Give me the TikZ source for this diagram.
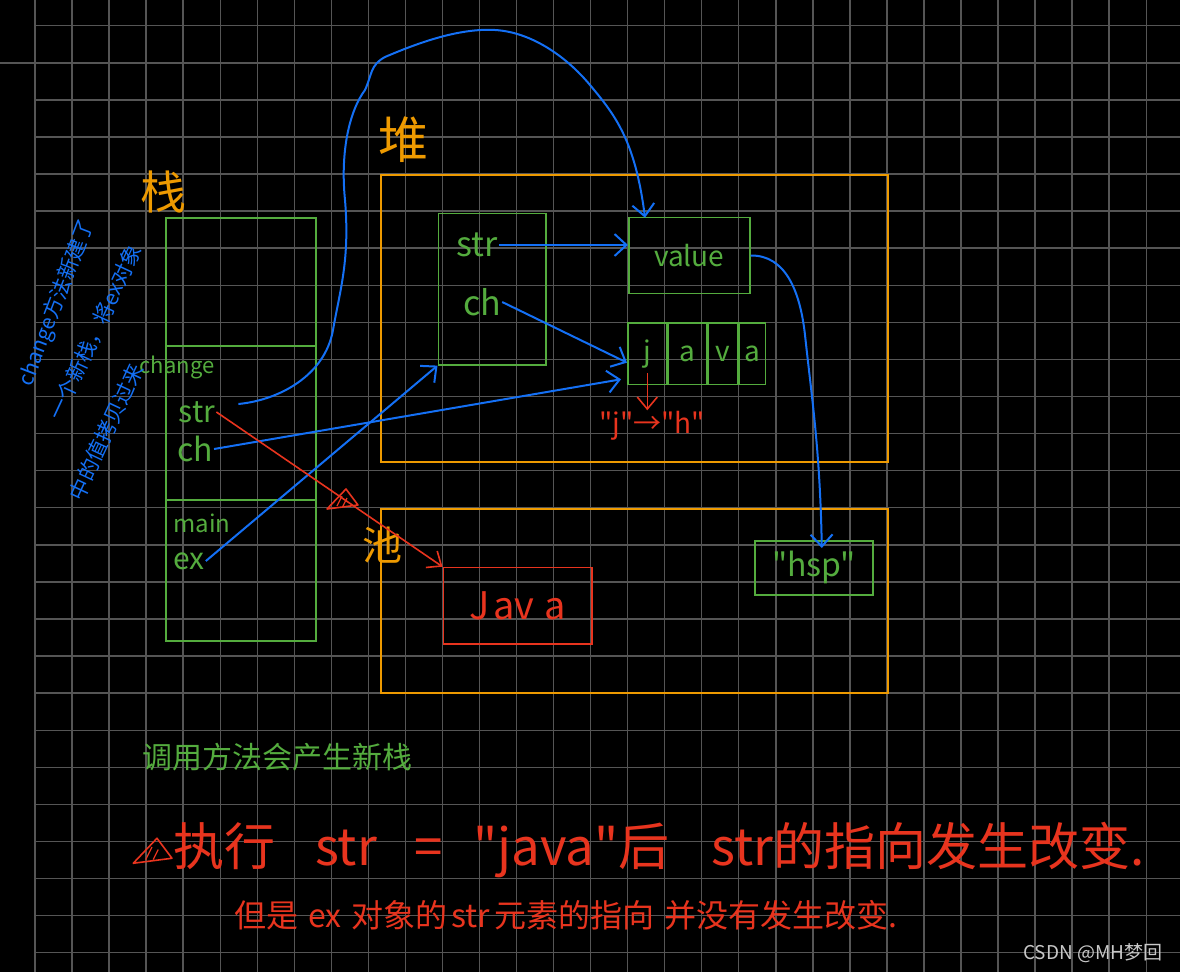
\documentclass[tikz,border=0pt]{standalone}
\usepackage{fontspec}
\newfontfamily\cjk{Noto Sans CJK SC}
\usepackage{tikz}
\usetikzlibrary{arrows.meta,calc}

\definecolor{gridgray}{RGB}{85,85,85}
\definecolor{hgreen}{RGB}{84,172,62}
\definecolor{horange}{RGB}{238,154,0}
\definecolor{hred}{RGB}{232,52,30}
\definecolor{hblue}{RGB}{20,112,245}
\definecolor{wmgray}{RGB}{200,200,200}

\newcommand{\setfs}[1]{\fontsize{#1}{#1}\selectfont}
% hatched warning triangle: #1 centre, #2 scale
\newcommand{\warnmark}[2]{%
  \begin{scope}[shift={#1}, scale=#2]
    \draw[hred, line width=1.6pt, line join=round] (-15,9) -- (4,-11) -- (16,5) -- cycle;
    \draw[hred, line width=1.2pt] (-5,6) .. controls (-3,1) .. (0,-4) (1,6) .. controls (3,2) .. (5,-2);
  \end{scope}}

\begin{document}
\begin{tikzpicture}[x=1pt, y=-1pt,
    gridline/.style={draw=gridgray, line width=1.4pt},
    framebox/.style={draw, line width=1.6pt, inner sep=0pt, anchor=north west},
    greenbox/.style={framebox, draw=hgreen},
    orangebox/.style={framebox, draw=horange},
    redbox/.style={framebox, draw=hred},
    cell/.style={greenbox, text=hgreen, font=\cjk\setfs{28}, minimum height=61.7},
    gtext/.style={text=hgreen, font=\cjk\setfs{#1}, inner sep=1pt},
    otext/.style={text=horange, font=\cjk\setfs{#1}, inner sep=1pt},
    rtext/.style={text=hred, font=\cjk\setfs{#1}, inner sep=1pt},
    btext/.style={text=hblue, font=\cjk\setfs{#1}, inner sep=0pt},
    bluearrow/.style={-{Straight Barb[length=12pt,width=22pt]}, hblue, line width=2pt},
    redarrow/.style={-{Straight Barb[length=12pt,width=20pt]}, hred, line width=1.6pt}
]
    % Background and grid
    \fill[black] (0,0) rectangle (1180,972);
    \useasboundingbox (0,0) rectangle (1180,972);
    \foreach \i in {0,...,30}
        \draw[gridline] (35+37.04*\i,0) -- (35+37.04*\i,972);
    \foreach \j in {0,...,25}
        \draw[gridline] (35,25.7+37.08*\j) -- (1180,25.7+37.08*\j);
    \draw[gridline, line width=2.4pt] (0,62.8) -- (1180,62.8);

    % Stack
    \node[greenbox, minimum width=150, minimum height=128] (topframe) at (165,217) {};
    \node[greenbox, minimum width=150, minimum height=154] (changeframe) at (165,345) {};
    \node[greenbox, minimum width=150, minimum height=141] (mainframe) at (165,499) {};
    \node[otext=46] (stacklabel) at (163,192) {栈};
    \node[gtext=22] (changelabel) at (177,367) {change};
    \node[gtext=30] (cstr) at (197,412) {str};
    \node[gtext=32] (cch) at (195,449) {ch};
    \node[gtext=24] (mainlabel) at (202,523) {main};
    \node[gtext=30] (cex) at (189,561) {ex};

    % Heap
    \node[orangebox, minimum width=507, minimum height=287] (heap) at (380,174) {};
    \node[otext=50] (heaplabel) at (403,140) {堆};
    \node[greenbox, minimum width=107.5, minimum height=151.3] (obj) at (437.5,212.7) {};
    \node[gtext=34] (ostr) at (477,245) {str};
    \node[gtext=34] (och) at (482,302) {ch};
    \node[greenbox, minimum width=121, minimum height=76, text=hgreen, font=\cjk\setfs{28}] (valuebox) at (628,216.7) {value};
    \node[cell, minimum width=39] (cellj) at (627,322) {j};
    \node[cell, minimum width=38] (cella) at (cellj.north east) {a};
    \node[cell, minimum width=30] (cellv) at (cella.north east) {v};
    \node[cell, minimum width=26] (cellb) at (cellv.north east) {a};
    \node[rtext=28] (jh) at (652,426) {"j"→"h"};

    % String pool
    \node[orangebox, minimum width=507, minimum height=184] (pool) at (380,508) {};
    \node[otext=40] (poollabel) at (382,545) {池};
    \node[redbox, minimum width=148.5, minimum height=76.3, text=hred, font=\cjk\setfs{38}] (java) at (442.5,566.7) {J\hspace{4pt}av\hspace{10pt}a};
    \node[greenbox, minimum width=118, minimum height=54, text=hgreen, font=\cjk\setfs{32}] (hsp) at (754,540) {"hsp"};

    % Arrows: references
    \draw[bluearrow] (ostr.east) -- (ostr.east -| valuebox.west);
    \draw[bluearrow] (och.east) -- ($(cellj.west)+(0,9)$);
    \draw[bluearrow] (valuebox.east) .. controls (785,255) and (800,290) .. (805,335)
        .. controls (812,400) and (820,450) .. ($(hsp.north)+(8,8)$);
    \draw[bluearrow] ($(cstr.east)+(22,-8)$) .. controls (280,400) and (325,375) .. (333,330)
        .. controls (340,290) and (350,260) .. (345,200)
        .. controls (340,150) and (350,110) .. (365,90)
        .. controls (372,75) and (370,65) .. (385,57)
        .. controls (420,42) and (460,28) .. (495,30)
        .. controls (530,32) and (565,55) .. (590,85)
        .. controls (615,115) and (635,140) .. ($(valuebox.north west)+(17,1)$);
    \draw[bluearrow] (cch.east) -- ($(cellj.south west)+(-6,-6)$);
    \draw[bluearrow] (cex.east) -- (obj.south west);
    \draw[redarrow] (cstr.east) -- (java.north west);
    \draw[redarrow] ($(cellj.south)+(0,-12)$) -- (cellj.south |- jh.north);
    \warnmark{(342,500)}{1}

    % Notes
    \node[btext=21, rotate=69] (notea) at (57,303) {change方法新建了};
    \node[btext=21, rotate=65] (noteb) at (95,332) {一个新栈，将ex对象};
    \node[btext=21, rotate=65] (notec) at (106,432) {中的值拷贝过来};
    \node[gtext=30] (callnote) at (277,757) {调用方法会产生新栈};
    \warnmark{(152,852)}{1.25}
    \node[rtext=51, anchor=west] (rulea) at (172,850) {执行\hspace{40pt}str\hspace{38pt}=\hspace{30pt}"java"后\hspace{42pt}str的指向发生改变.};
    \node[rtext=32, anchor=west] (ruleb) at (233,915) {但是\hspace{10pt}ex\hspace{10pt}对象的\hspace{4pt}str\hspace{4pt}元素的指向\hspace{10pt}并没有发生改变.};
    \node[text=wmgray, font=\cjk\setfs{19}, anchor=east] (mark) at (1166,953) {CSDN @MH梦回};
\end{tikzpicture}
\end{document}
